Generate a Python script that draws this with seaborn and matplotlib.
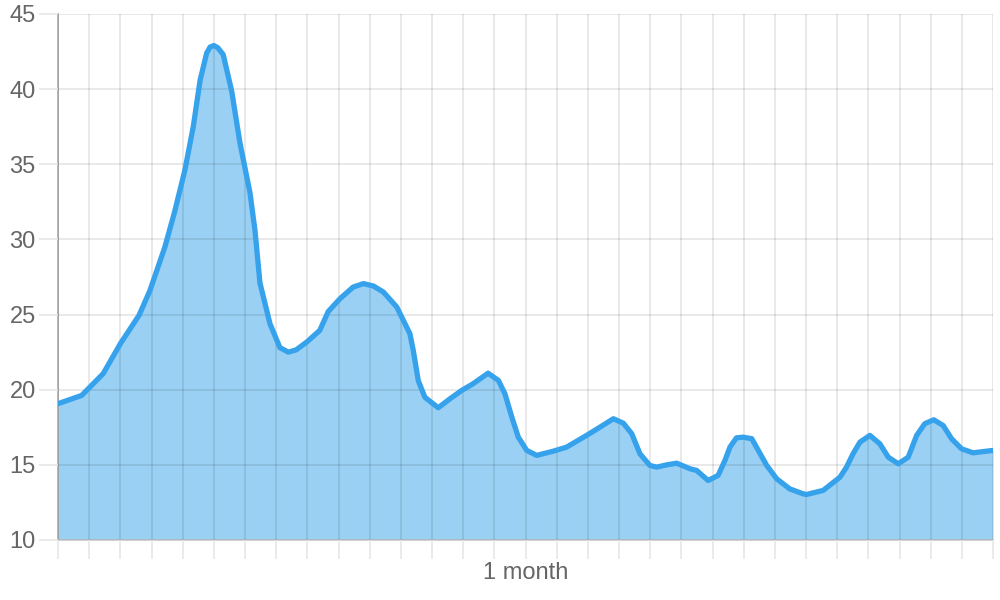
import matplotlib
matplotlib.use("Agg")
import matplotlib.pyplot as plt
import pandas
import seaborn


# values (x in days, y in the chart's units)
DAYS = [0.0, 0.76, 1.45, 2.0, 2.6, 2.95, 3.43, 3.75, 4.07, 4.34, 4.56, 4.77,
        4.88, 5.0, 5.13, 5.3, 5.57, 5.84, 6.16, 6.32, 6.48, 6.8, 7.12, 7.39,
        7.64, 7.98, 8.4, 8.67, 9.05, 9.47, 9.8, 10.12, 10.44, 10.87, 11.29,
        11.4, 11.56, 11.77, 12.2, 12.58, 12.95, 13.32, 13.8, 14.13, 14.34,
        14.56, 14.77, 15.04, 15.36, 15.89, 16.32, 16.96, 17.39, 17.82, 18.14,
        18.41, 18.67, 18.99, 19.21, 19.53, 19.85, 20.28, 20.49, 20.86, 21.18,
        21.4, 21.56, 21.77, 21.99, 22.26, 22.47, 22.74, 23.06, 23.48, 23.91,
        24.02, 24.55, 25.09, 25.3, 25.51, 25.73, 26.05, 26.37, 26.64, 26.96,
        27.28, 27.55, 27.81, 28.1, 28.4, 28.67, 28.99, 29.36, 29.79, 30.0]
VALUES = [19.07, 19.62, 21.07, 23.06, 24.95, 26.6, 29.5, 31.9, 34.6, 37.5,
          40.6, 42.4, 42.8, 42.9, 42.75, 42.3, 39.9, 36.4, 33.1, 30.6, 27.1,
          24.4, 22.8, 22.5, 22.65, 23.17, 23.95, 25.2, 26.06, 26.83, 27.06,
          26.9, 26.5, 25.5, 23.73, 22.6, 20.6, 19.5, 18.8, 19.4, 19.95, 20.4,
          21.1, 20.62, 19.73, 18.18, 16.84, 15.96, 15.63, 15.91, 16.18, 16.96,
          17.51, 18.07, 17.77, 17.07, 15.74, 14.96, 14.85, 15.0, 15.11, 14.74,
          14.63, 13.96, 14.3, 15.3, 16.18, 16.8, 16.84, 16.74, 15.96, 14.96,
          14.07, 13.4, 13.07, 13.03, 13.3, 14.18, 14.85, 15.74, 16.51, 16.96,
          16.4, 15.51, 15.07, 15.51, 16.96, 17.74, 18.0, 17.62, 16.74, 16.07,
          15.8, 15.91, 15.96]

TICK_DAYS = list(range(31))
TICK_LABELS = ["1 month" if d == 15 else "" for d in TICK_DAYS]
Y_TICKS = [10, 15, 20, 25, 30, 35, 40, 45]

LINE_COLOR = "#36a2eb"
TEXT_COLOR = "#666666"


def draw_graph():
    df = pandas.DataFrame({"day": DAYS, "value": VALUES})

    seaborn.set_style("white")
    plt.rcParams["font.family"] = ["Liberation Sans", "DejaVu Sans"]

    fig = plt.figure(figsize=(10, 6), dpi=100)
    ax = fig.add_axes([0.058, 0.1, 0.935, 0.8767])

    ax.fill_between(df["day"], 10, df["value"], color=LINE_COLOR, alpha=0.5,
                    linewidth=0, zorder=1)
    seaborn.lineplot(x="day", y="value", data=df, ax=ax, color=LINE_COLOR,
                     linewidth=3.8, solid_joinstyle="round",
                     solid_capstyle="round", zorder=4)

    ax.set_xlim(0, 30)
    ax.set_ylim(10, 45)
    ax.set_xticks(TICK_DAYS)
    ax.set_xticklabels(TICK_LABELS)
    ax.set_yticks(Y_TICKS)
    ax.set_xlabel("")
    ax.set_ylabel("")

    ax.set_axisbelow(False)
    ax.grid(True, color="black", alpha=0.1, linewidth=1.2)
    for gl in ax.get_xgridlines() + ax.get_ygridlines():
        gl.set_zorder(2)
    ax.tick_params(axis="both", length=14, width=1.2, color="#e6e6e6",
                   labelcolor=TEXT_COLOR, labelsize=17, pad=2,
                   bottom=True, left=True)

    for side in ["top", "right"]:
        ax.spines[side].set_visible(False)
    ax.spines["left"].set_color("#a8a8a8")
    ax.spines["left"].set_linewidth(1.2)
    ax.spines["bottom"].set_color("#cccccc")
    ax.spines["bottom"].set_linewidth(1.2)

    fig.savefig("out.png", dpi=100)


draw_graph()
